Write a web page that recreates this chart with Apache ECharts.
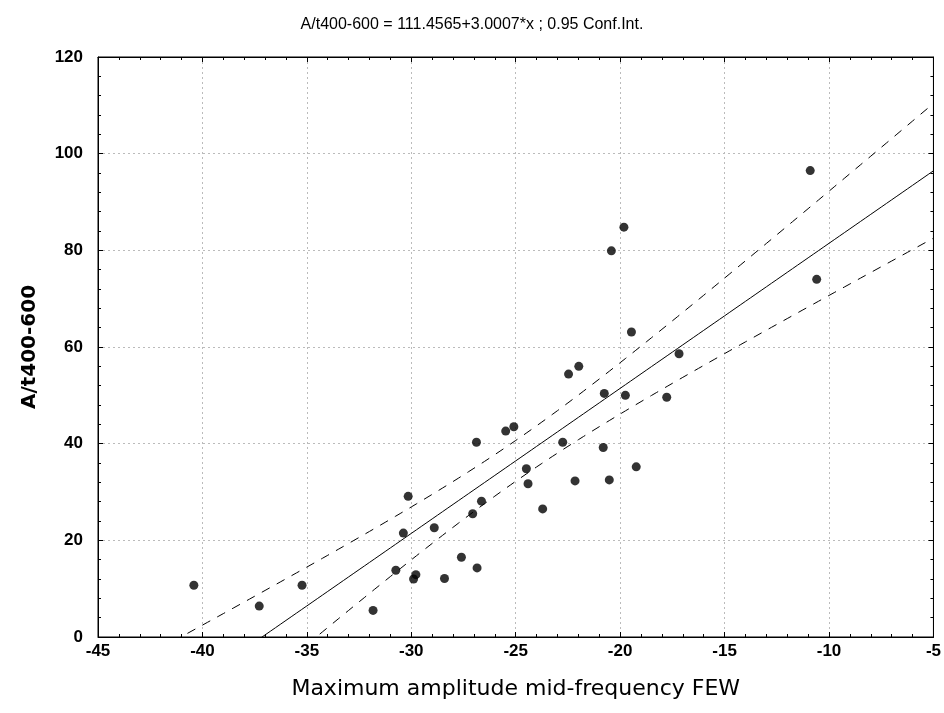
<!DOCTYPE html>
<html>
<head>
<meta charset="utf-8">
<script src="https://cdn.jsdelivr.net/npm/echarts@6/dist/echarts.min.js"></script>
<style>html,body{margin:0;padding:0;background:#fff;}#c{width:944px;height:713px;}</style>
</head>
<body>
<div id="c"></div>
<script>
// Data
const xValues = [-40.41, -37.28, -35.23, -31.83, -30.74, -30.38, -30.15, -29.89, -29.78, -28.90,
  -28.41, -27.60, -27.06, -26.85, -26.88, -26.64, -25.48, -25.09, -24.49, -24.41,
  -23.71, -22.75, -22.47, -21.98, -22.16, -20.81, -20.76, -20.52, -20.42, -19.82,
  -19.75, -19.46, -19.23, -17.77, -17.18, -10.90, -10.59];
const yValues = [10.7, 6.4, 10.7, 5.5, 13.8, 21.5, 29.1, 12.0, 12.9, 22.6,
  12.1, 16.5, 25.5, 14.3, 40.3, 28.1, 42.6, 43.5, 34.8, 31.7,
  26.5, 40.3, 54.4, 56.0, 32.3, 39.2, 50.4, 32.5, 79.9, 84.8,
  50.0, 63.1, 35.2, 49.6, 58.6, 96.5, 74.0];
const intercept = 111.4565;
const slope = 3.0007;
const xTicks = [-45, -40, -35, -30, -25, -20, -15, -10, -5];
const yTicks = [0, 20, 40, 60, 80, 100, 120];

// regression statistics from the data (0.95 confidence band of the mean)
const n = xValues.length;
const xbar = xValues.reduce((a, b) => a + b, 0) / n;
let sxx = 0, sse = 0;
for (let i = 0; i < n; i++) {
  sxx += (xValues[i] - xbar) ** 2;
  const r = yValues[i] - (intercept + slope * xValues[i]);
  sse += r * r;
}
const s = Math.sqrt(sse / (n - 2));
const tCrit = 2.03; // t(0.975, df=35)
const fitLine = [], upper = [], lower = [];
for (let k = 0; k <= 160; k++) {
  const x = xTicks[0] + k * 0.25;
  const yh = intercept + slope * x;
  const se = s * Math.sqrt(1 / n + (x - xbar) ** 2 / sxx);
  fitLine.push([x, yh]);
  upper.push([x, yh + tCrit * se]);
  lower.push([x, yh - tCrit * se]);
}
const points = xValues.map((x, i) => [x, yValues[i]]);

const chart = echarts.init(document.getElementById('c'), null, {renderer: 'canvas'});
const font = 'Liberation Sans, Arial, sans-serif';
const wideFont = 'DejaVu Sans, sans-serif';
const axisCommon = {
  axisLine: {show: true, onZero: false, lineStyle: {color: '#000', width: 1}},
  axisTick: {show: true, inside: true, length: 5, lineStyle: {color: '#000'}},
  minorTick: {show: true, splitNumber: 5, length: 3, lineStyle: {color: '#000'}},
};
chart.setOption({
  animation: false,
  backgroundColor: '#fff',
  title: {
    text: 'A/t400-600 = 111.4565+3.0007*x ; 0.95 Conf.Int.',
    left: 'center', top: 12,
    textStyle: {fontFamily: font, fontSize: 16, fontWeight: 'normal', color: '#000'}
  },
  grid: {left: 98, right: 9, top: 57, bottom: 76, show: true, borderColor: '#000', borderWidth: 1},
  xAxis: [
    Object.assign({
      type: 'value', min: -45, max: -5, interval: 5, position: 'bottom',
      name: 'Maximum amplitude mid-frequency FEW', nameLocation: 'middle', nameGap: 41,
      nameTextStyle: {fontFamily: wideFont, fontSize: 22, color: '#000'},
      axisLabel: {fontFamily: font, fontSize: 17, fontWeight: 'bold', color: '#000', margin: 6},
      splitLine: {show: true, lineStyle: {color: '#bbb', type: [2, 3], width: 1}},
    }, axisCommon),
    Object.assign({
      type: 'value', min: -45, max: -5, interval: 5, position: 'top',
      axisLabel: {show: false}, splitLine: {show: false}
    }, axisCommon)
  ],
  yAxis: [
    Object.assign({
      type: 'value', min: 0, max: 120, interval: 20, position: 'left',
      name: 'A/t400-600', nameLocation: 'middle', nameGap: 58, nameRotate: 90,
      nameTextStyle: {fontFamily: wideFont, fontSize: 20, fontWeight: 'bold', color: '#000'},
      axisLabel: {fontFamily: font, fontSize: 17, fontWeight: 'bold', color: '#000', margin: 15},
      splitLine: {show: true, lineStyle: {color: '#bbb', type: [2, 3], width: 1}},
    }, axisCommon),
    Object.assign({
      type: 'value', min: 0, max: 120, interval: 20, position: 'right',
      axisLabel: {show: false}, splitLine: {show: false}
    }, axisCommon)
  ],
  series: [
    {type: 'line', data: upper, showSymbol: false, symbol: 'none', clip: true,
      lineStyle: {color: '#000', width: 1, type: [9, 8]}, z: 3},
    {type: 'line', data: lower, showSymbol: false, symbol: 'none', clip: true,
      lineStyle: {color: '#000', width: 1, type: [9, 8]}, z: 3},
    {type: 'line', data: fitLine, showSymbol: false, symbol: 'none', clip: true,
      lineStyle: {color: '#000', width: 1}, z: 3},
    {type: 'scatter', data: points, symbol: 'circle', symbolSize: 9,
      itemStyle: {color: '#000'}, z: 4}
  ]
});
</script>
</body>
</html>
